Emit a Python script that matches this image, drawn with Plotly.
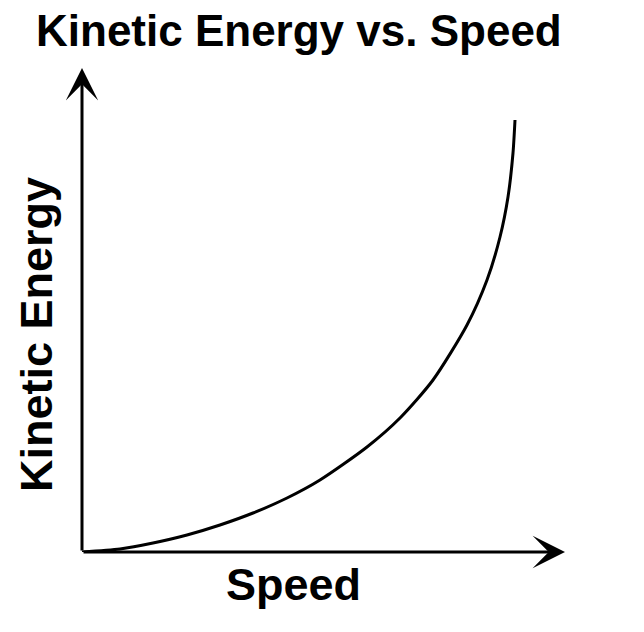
import plotly.graph_objects as go

# Values (arbitrary units, no ticks shown)
speed = [0, 38, 71, 105, 138, 171, 205, 238, 285, 318, 351, 385, 405, 418, 426, 431, 433]
kinetic_energy = [0, 3, 9, 17, 27, 39, 54, 72, 105, 134, 172, 227, 272, 315, 355, 399, 432]

title_text = "Kinetic Energy vs. Speed"
x_label = "Speed"
y_label = "Kinetic Energy"

W, H = 644, 632
OFF = 8  # page body margin offset
x_max = 483
y_max = 484

fig = go.Figure()
fig.add_trace(go.Scatter(
    x=speed, y=kinetic_energy, mode="lines",
    line=dict(color="black", width=3, shape="spline", smoothing=0.7),
    hoverinfo="skip", showlegend=False,
))

font = "Liberation Sans, Arial, sans-serif"

fig.update_layout(
    width=W, height=H,
    margin=dict(l=0, r=0, t=0, b=0),
    paper_bgcolor="white", plot_bgcolor="white",
    xaxis=dict(range=[0, x_max], domain=[(82 - OFF) / W, (565 - OFF) / W], visible=False, fixedrange=True),
    yaxis=dict(range=[0, y_max], domain=[(H - (552 - OFF)) / H, (H - (68 - OFF)) / H], visible=False, fixedrange=True),
    showlegend=False,
)

# axis arrows
for (tx, ty) in [(x_max, 0), (0, y_max)]:
    fig.add_annotation(
        x=tx, y=ty, ax=0, ay=0, xref="x", yref="y", axref="x", ayref="y",
        text="", showarrow=True, arrowhead=3, arrowsize=1.8, arrowwidth=3,
        arrowcolor="black",
    )

def px(xp, yp):
    return xp / W, 1 - yp / H

tx, ty = px(291, 23)
fig.add_annotation(
    text="<b>%s</b>" % title_text, xref="paper", yref="paper",
    x=tx, y=ty, xanchor="center", yanchor="middle",
    showarrow=False, font=dict(family=font, size=44, color="black"),
)
tx, ty = px(285, 576)
fig.add_annotation(
    text="<b>%s</b>" % x_label, xref="paper", yref="paper",
    x=tx, y=ty, xanchor="center", yanchor="middle",
    showarrow=False, font=dict(family=font, size=45, color="black"),
)
tx, ty = px(28, 327)
fig.add_annotation(
    text="<b>%s</b>" % y_label, xref="paper", yref="paper",
    x=tx, y=ty, xanchor="center", yanchor="middle", textangle=-90,
    showarrow=False, font=dict(family=font, size=45, color="black"),
)

fig.write_html("out.html")
